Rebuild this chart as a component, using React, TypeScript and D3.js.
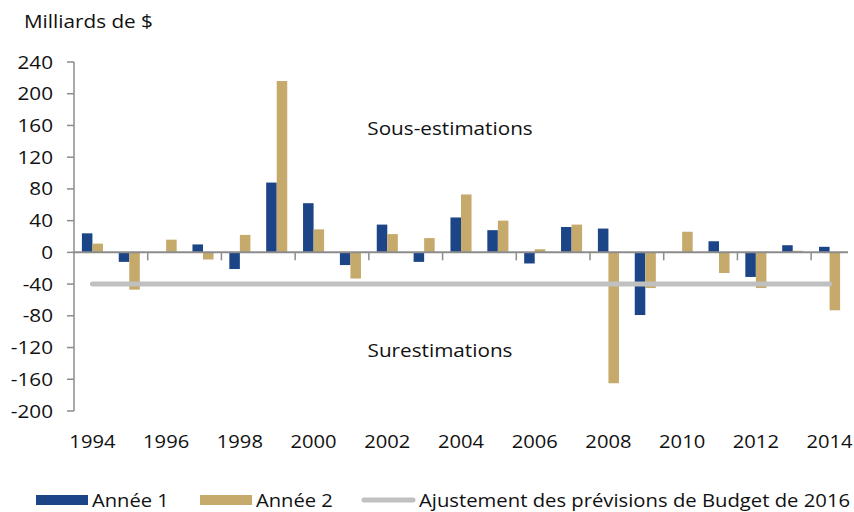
import * as d3 from "d3";
import { useEffect, useRef } from "react";

const years = d3.range(1994, 2015).map(String);
const annee1 = [24, -12, 0, 10, -21, 88, 62, -16, 35, -12, 44, 28, -14, 32, 30, -79, 0, 14, -31, 9, 7];
const annee2 = [11, -47, 16, -9, 22, 216, 29, -33, 23, 18, 73, 40, 4, 35, -165, -45, 26, -26, -45, 2, -73];
const ajustement = -40;
const yTicks = [-200, -160, -120, -80, -40, 0, 40, 80, 120, 160, 200, 240];

const BLUE = "#1c4587";
const TAN = "#c5aa6b";
const GREY = "#c0c0c0";
const AXIS = "#8c8c8c";
const FONT = "'Open Sans', 'Noto Sans', sans-serif";
const STRETCH = 1.12; // the reference text is a bit wider than Open Sans

// text with a small horizontal stretch
const label = (parent, x, y, str, anchor = "start", size = 18.5) =>
  parent.append("text")
    .attr("transform", `translate(${x},${y}) scale(${STRETCH},1)`)
    .attr("text-anchor", anchor)
    .attr("font-size", size)
    .attr("fill", "#111")
    .text(str);

const draw = (ref) => {
  const svg = d3.select(ref.current);
  svg.selectAll("*").remove();

  const x = d3.scaleBand().domain(years).range([74, 848]);
  const inner = d3.scaleBand().domain(["a1", "a2"]).range([0, x.bandwidth()]).paddingInner(0).paddingOuter(0.75);
  const y = d3.scaleLinear().domain([-200, 240]).range([411, 62]);

  label(svg, 24, 28, "Milliards de $");

  // y axis
  svg.append("line").attr("x1", 74).attr("x2", 74).attr("y1", y(240)).attr("y2", y(-200))
    .attr("stroke", AXIS).attr("stroke-width", 1.5);
  yTicks.forEach(d => {
    svg.append("line").attr("x1", 67).attr("x2", 74).attr("y1", y(d)).attr("y2", y(d))
      .attr("stroke", AXIS).attr("stroke-width", 1.5);
    label(svg, 53, y(d) + 6.5, d, "end");
  });

  // bars
  const bar = (vals, key, color) => svg.append("g").selectAll("rect").data(vals).enter().append("rect")
    .attr("x", (d, i) => x(years[i]) + inner(key))
    .attr("width", inner.bandwidth())
    .attr("y", d => y(Math.max(0, d)))
    .attr("height", d => Math.abs(y(d) - y(0)))
    .attr("fill", color);
  bar(annee1, "a1", BLUE);
  bar(annee2, "a2", TAN);

  // x axis
  svg.append("line").attr("x1", 74).attr("x2", 848).attr("y1", y(0)).attr("y2", y(0))
    .attr("stroke", AXIS).attr("stroke-width", 2);
  const xt = years.filter((d, i) => i % 2 === 0 && i > 0);
  svg.selectAll(".xt").data(xt).enter().append("line")
    .attr("x1", d => x(d)).attr("x2", d => x(d)).attr("y1", y(0)).attr("y2", y(0) + 8)
    .attr("stroke", AXIS).attr("stroke-width", 1.5);
  years.filter((d, i) => i % 2 === 0).forEach(d => {
    label(svg, x(d) + x.bandwidth() / 2, 448, d, "middle", 18);
  });

  // ajustement line
  svg.append("line")
    .attr("x1", x(years[0]) + x.bandwidth() / 2).attr("x2", x(years[years.length - 1]) + x.bandwidth() / 2)
    .attr("y1", y(ajustement)).attr("y2", y(ajustement))
    .attr("stroke", GREY).attr("stroke-width", 5).attr("stroke-linecap", "round");

  label(svg, 450, 135, "Sous-estimations", "middle");
  label(svg, 440, 357, "Surestimations", "middle");

  // legend
  const lg = svg.append("g");
  lg.append("rect").attr("x", 36).attr("y", 495).attr("width", 52).attr("height", 10).attr("fill", BLUE);
  label(lg, 92, 507, "Année 1", "start", 18);
  lg.append("rect").attr("x", 200).attr("y", 495).attr("width", 52).attr("height", 10).attr("fill", TAN);
  label(lg, 256, 507, "Année 2", "start", 18);
  lg.append("line").attr("x1", 364).attr("x2", 413).attr("y1", 500).attr("y2", 500)
    .attr("stroke", GREY).attr("stroke-width", 5).attr("stroke-linecap", "round");
  label(lg, 419, 507, "Ajustement des prévisions de Budget de 2016", "start", 18.1);
};

export default function App() {
  const ref = useRef(null);
  useEffect(() => {
    draw(ref);
  }, []);
  return (
    <div style={{ position: "absolute", left: 0, top: 0 }}>
      <svg ref={ref} width={854} height={512} style={{ display: "block", fontFamily: FONT, background: "#fff" }} />
    </div>
  );
}
